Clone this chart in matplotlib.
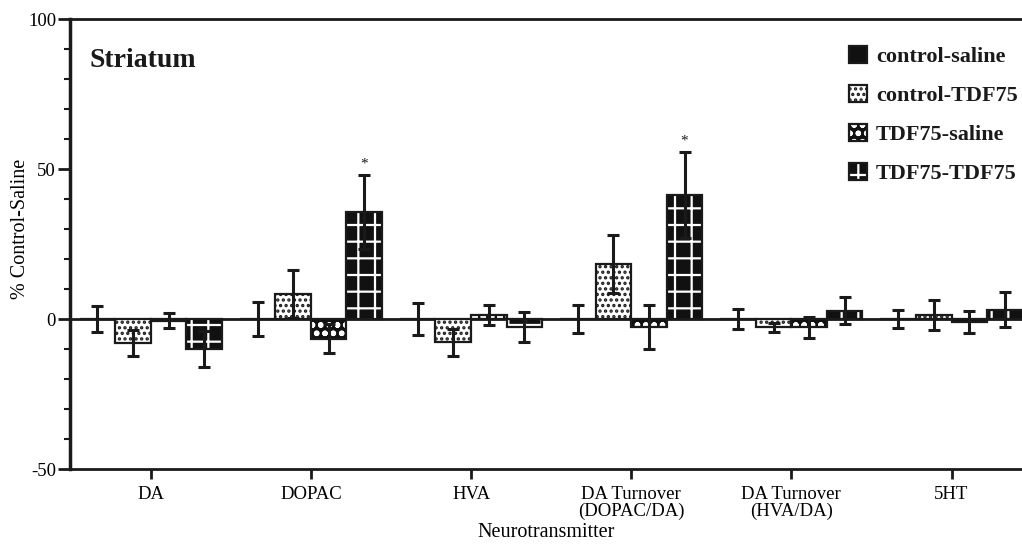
import numpy as np
import matplotlib
matplotlib.use("Agg")
from matplotlib import pyplot as plt
from matplotlib.patches import Patch

# data (% of control-saline, mean and SEM)
transmitters = ["DA", "DOPAC", "HVA", "DA Turnover\n(DOPAC/DA)",
                "DA Turnover\n(HVA/DA)", "5HT"]
groups = ["control-saline", "control-TDF75", "TDF75-saline", "TDF75-TDF75"]

ctrl_sal = [0, 0, 0, 0, 0, 0]
ctrl_sal_err = [4.2, 5.8, 5.3, 4.8, 3.3, 3.1]
ctrl_tdf = [-8.0, 8.4, -7.8, 18.4, -2.8, 1.3]
ctrl_tdf_err = [4.2, 8.0, 4.5, 9.7, 1.4, 5.0]
tdf_sal = [-0.5, -6.5, 1.3, -2.6, -2.8, -1.1]
tdf_sal_err = [2.6, 4.7, 3.3, 7.4, 3.6, 3.7]
tdf_tdf = [-10.0, 35.7, -2.8, 41.4, 2.8, 3.1]
tdf_tdf_err = [6.0, 12.4, 5.0, 14.3, 4.4, 5.9]
signif_tdf = ["", "*", "", "*", "", ""]

ink = "#1a1a1a"
plt.rcParams["font.family"] = ["Liberation Serif", "DejaVu Serif"]
plt.rcParams["hatch.linewidth"] = 1.6
plt.rcParams["text.color"] = ink
plt.rcParams["axes.unicode_minus"] = False

# face, hatch colour, hatch pattern for each group
styles = [("#111111", "#111111", None),
          ("white", ink, "..."),
          ("#111111", "white", "oo"),
          ("#111111", "white", "+")]
means = [ctrl_sal, ctrl_tdf, tdf_sal, tdf_tdf]
errs = [ctrl_sal_err, ctrl_tdf_err, tdf_sal_err, tdf_tdf_err]

fig = plt.figure(figsize=(10.22, 5.46), dpi=100)
ax = fig.add_axes([0.0685, 0.141, 0.9315, 0.824])

x = np.arange(len(transmitters))
w = 0.222
ax.axhline(0, color=ink, lw=2, zorder=1)

handles = []
for k in range(4):
    pos = x + (k - 1.5) * w
    fc, hc, hatch = styles[k]
    ax.bar(pos, means[k], w, color=fc, edgecolor=hc, hatch=hatch, lw=0, zorder=2)
    ax.bar(pos, means[k], w, color="none", edgecolor=ink, lw=1.6, zorder=3)
    ax.errorbar(pos, means[k], yerr=errs[k], fmt="none", ecolor=ink,
                elinewidth=2.2, capsize=4.5, capthick=2.2, zorder=4)
    handles.append((Patch(facecolor=fc, edgecolor=hc, hatch=hatch, lw=0),
                    Patch(facecolor="none", edgecolor=ink, lw=1.6)))

# significance stars above TDF75-TDF75
for i, s in enumerate(signif_tdf):
    if s:
        ax.text(x[i] + 1.5 * w, tdf_tdf[i] + tdf_tdf_err[i] + 1.5, s,
                ha="center", va="bottom", fontsize=11)

ax.set_xlim(-0.504, 5.44)
ax.set_ylim(-50, 100)
ax.set_yticks([-50, 0, 50, 100])
ax.set_yticks(np.arange(-50, 101, 10), minor=True)
ax.set_xticks(x)
ax.set_xticklabels(transmitters, fontsize=13.5, linespacing=1.0)
ax.tick_params(axis="y", labelsize=13.5, length=9, width=2, color=ink, pad=1)
ax.tick_params(axis="y", which="minor", length=4, width=1.5, color=ink)
ax.tick_params(axis="x", length=7, width=2, color=ink, pad=5)
ax.spines["right"].set_visible(False)
ax.spines["left"].set_linewidth(2.5)
ax.spines["bottom"].set_linewidth(2)
ax.spines["top"].set_linewidth(2)
for sp in ax.spines.values():
    sp.set_color(ink)

ax.set_ylabel("% Control-Saline", fontsize=14.5)
ax.yaxis.set_label_coords(0.029, 0.58, transform=fig.transFigure)
ax.set_xlabel("Neurotransmitter", fontsize=14.5, labelpad=2)
ax.text(0.02, 0.909, "Striatum", transform=ax.transAxes, fontsize=20,
        fontweight="bold", va="center")

fig.legend(handles, groups, loc="upper left", bbox_to_anchor=(0.82, 0.937),
           frameon=False, borderpad=0, handlelength=0.8, handleheight=0.8,
           handletextpad=0.4, labelspacing=0.8,
           prop={"size": 16, "weight": "bold"})

plt.savefig("out.png", dpi=100)
